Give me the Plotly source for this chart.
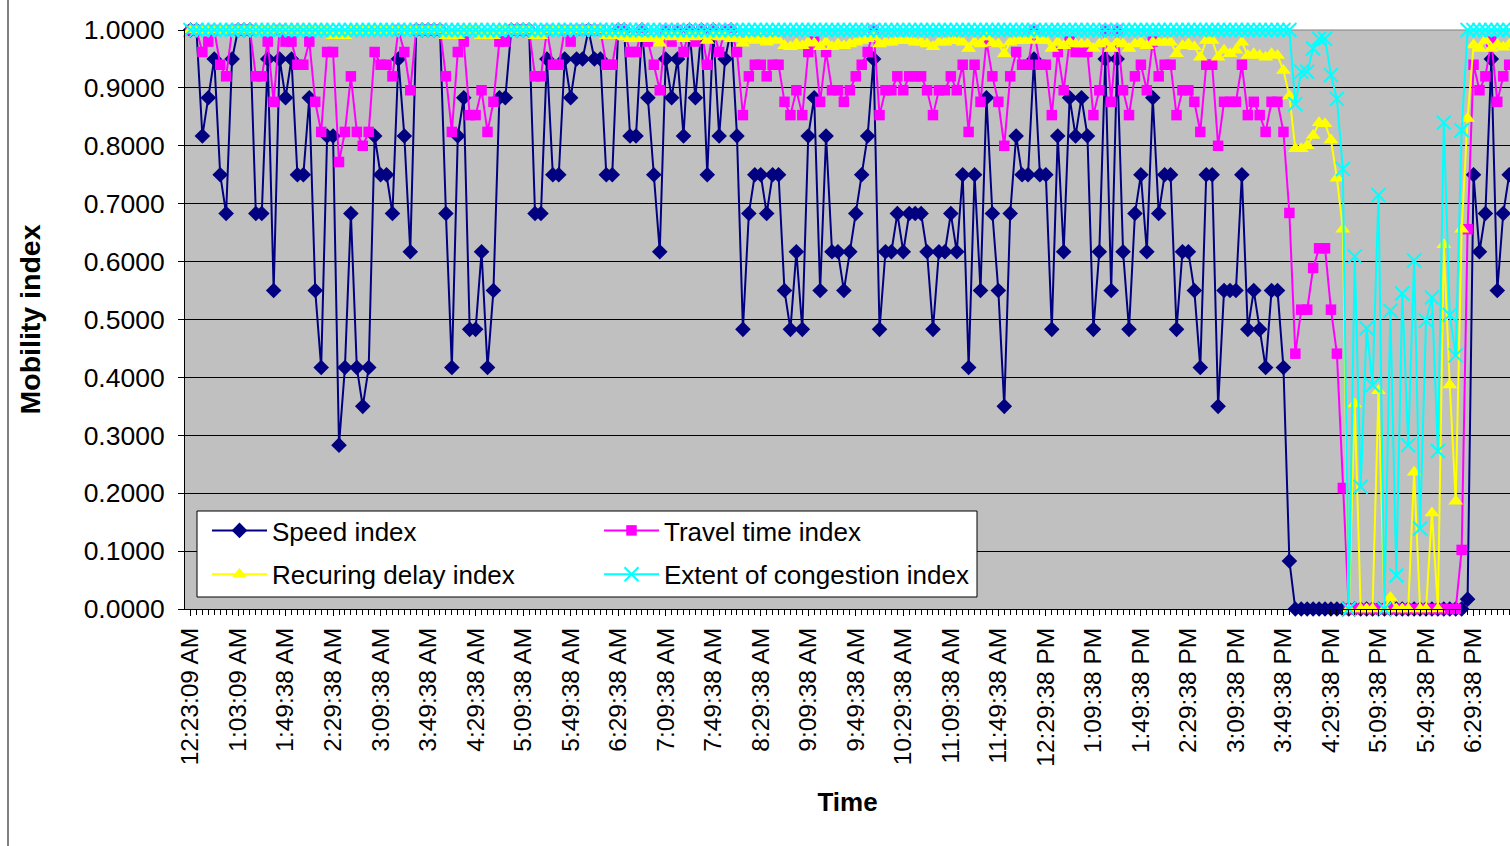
import plotly.graph_objects as go

# ---------------- data ----------------
tick_labels = [
    "12:23:09 AM", "1:03:09 AM", "1:49:38 AM", "2:29:38 AM", "3:09:38 AM", "3:49:38 AM",
    "4:29:38 AM", "5:09:38 AM", "5:49:38 AM", "6:29:38 AM", "7:09:38 AM", "7:49:38 AM",
    "8:29:38 AM", "9:09:38 AM", "9:49:38 AM", "10:29:38 AM", "11:09:38 AM", "11:49:38 AM",
    "12:29:38 PM", "1:09:38 PM", "1:49:38 PM", "2:29:38 PM", "3:09:38 PM", "3:49:38 PM",
    "4:29:38 PM", "5:09:38 PM", "5:49:38 PM", "6:29:38 PM",
]
label_every = 8  # one time label every 8 categories

speed_index = [
    1.0, 1.0, 0.817, 0.883, 0.95, 0.75, 0.683, 0.95, 1.0, 1.0,
    1.0, 0.683, 0.683, 0.95, 0.55, 0.95, 0.883, 0.95, 0.75, 0.75,
    0.883, 0.55, 0.417, 0.817, 0.817, 0.283, 0.417, 0.683, 0.417, 0.35,
    0.417, 0.817, 0.75, 0.75, 0.683, 0.95, 0.817, 0.617, 1.0, 1.0,
    1.0, 1.0, 1.0, 0.683, 0.417, 0.817, 0.883, 0.483, 0.483, 0.617,
    0.417, 0.55, 0.883, 0.883, 1.0, 1.0, 1.0, 1.0, 0.683, 0.683,
    0.95, 0.75, 0.75, 0.95, 0.883, 0.95, 0.95, 1.0, 0.95, 0.95,
    0.75, 0.75, 1.0, 1.0, 0.817, 0.817, 1.0, 0.883, 0.75, 0.617,
    0.95, 0.883, 0.95, 0.817, 1.0, 0.883, 1.0, 0.75, 1.0, 0.817,
    0.95, 1.0, 0.817, 0.483, 0.683, 0.75, 0.75, 0.683, 0.75, 0.75,
    0.55, 0.483, 0.617, 0.483, 0.817, 0.883, 0.55, 0.817, 0.617, 0.617,
    0.55, 0.617, 0.683, 0.75, 0.817, 0.95, 0.483, 0.617, 0.617, 0.683,
    0.617, 0.683, 0.683, 0.683, 0.617, 0.483, 0.617, 0.617, 0.683, 0.617,
    0.75, 0.417, 0.75, 0.55, 0.883, 0.683, 0.55, 0.35, 0.683, 0.817,
    0.75, 0.75, 0.95, 0.75, 0.75, 0.483, 0.817, 0.617, 0.883, 0.817,
    0.883, 0.817, 0.483, 0.617, 0.95, 0.55, 0.95, 0.617, 0.483, 0.683,
    0.75, 0.617, 0.883, 0.683, 0.75, 0.75, 0.483, 0.617, 0.617, 0.55,
    0.417, 0.75, 0.75, 0.35, 0.55, 0.55, 0.55, 0.75, 0.483, 0.55,
    0.483, 0.417, 0.55, 0.55, 0.417, 0.083, 0.0, 0.0, 0.0, 0.0,
    0.0, 0.0, 0.0, 0.0, 0.0, 0.0, 0.0, 0.0, 0.0, 0.0,
    0.0, 0.0, 0.0, 0.0, 0.0, 0.0, 0.0, 0.0, 0.0, 0.0,
    0.0, 0.0, 0.0, 0.0, 0.0, 0.017, 0.75, 0.617, 0.683, 0.95,
    0.55, 0.683, 0.75,
]

travel_time_index = [
    1.0, 1.0, 0.962, 0.98, 1.0, 0.94, 0.92, 1.0, 1.0, 1.0,
    1.0, 0.92, 0.92, 0.98, 0.876, 1.0, 0.98, 0.98, 0.94, 0.94,
    0.98, 0.876, 0.824, 0.962, 0.962, 0.772, 0.824, 0.92, 0.824, 0.80,
    0.824, 0.962, 0.94, 0.94, 0.92, 1.0, 0.962, 0.896, 1.0, 1.0,
    1.0, 1.0, 1.0, 0.92, 0.824, 0.962, 0.98, 0.853, 0.853, 0.896,
    0.824, 0.876, 0.98, 0.98, 1.0, 1.0, 1.0, 1.0, 0.92, 0.92,
    1.0, 0.94, 0.94, 1.0, 0.98, 1.0, 1.0, 1.0, 1.0, 1.0,
    0.94, 0.94, 1.0, 1.0, 0.962, 0.962, 1.0, 0.98, 0.94, 0.896,
    1.0, 0.98, 1.0, 0.962, 1.0, 0.98, 1.0, 0.94, 1.0, 0.962,
    1.0, 1.0, 0.962, 0.853, 0.92, 0.94, 0.94, 0.92, 0.94, 0.94,
    0.876, 0.853, 0.896, 0.853, 0.962, 0.98, 0.876, 0.962, 0.896, 0.896,
    0.876, 0.896, 0.92, 0.94, 0.962, 1.0, 0.853, 0.896, 0.896, 0.92,
    0.896, 0.92, 0.92, 0.92, 0.896, 0.853, 0.896, 0.896, 0.92, 0.896,
    0.94, 0.824, 0.94, 0.876, 0.98, 0.92, 0.876, 0.80, 0.92, 0.962,
    0.94, 0.94, 1.0, 0.94, 0.94, 0.853, 0.962, 0.896, 0.98, 0.962,
    0.962, 0.962, 0.853, 0.896, 1.0, 0.876, 1.0, 0.896, 0.853, 0.92,
    0.94, 0.896, 0.98, 0.92, 0.94, 0.94, 0.853, 0.896, 0.896, 0.876,
    0.824, 0.94, 0.94, 0.80, 0.876, 0.876, 0.876, 0.94, 0.853, 0.876,
    0.853, 0.824, 0.876, 0.876, 0.824, 0.684, 0.441, 0.517, 0.517, 0.589,
    0.623, 0.623, 0.517, 0.441, 0.209, 0.0, 0.0, 0.0, 0.0, 0.0,
    0.0, 0.0, 0.0, 0.0, 0.0, 0.0, 0.0, 0.0, 0.0, 0.0,
    0.0, 0.0, 0.0, 0.0, 0.102, 0.656, 0.94, 0.896, 0.92, 0.98,
    0.876, 0.92, 0.94,
]

recurring_delay_index = [
    1.0, 1.0, 1.0, 1.0, 1.0, 1.0, 1.0, 1.0, 1.0, 1.0,
    1.0, 1.0, 1.0, 1.0, 1.0, 1.0, 1.0, 1.0, 1.0, 1.0,
    1.0, 1.0, 1.0, 1.0, 0.99, 0.99, 0.99, 1.0, 1.0, 1.0,
    1.0, 1.0, 1.0, 1.0, 1.0, 1.0, 1.0, 1.0, 1.0, 1.0,
    1.0, 1.0, 1.0, 0.99, 0.99, 0.99, 1.0, 1.0, 1.0, 0.99,
    0.99, 0.99, 1.0, 1.0, 1.0, 1.0, 1.0, 1.0, 0.99, 0.99,
    1.0, 1.0, 1.0, 1.0, 1.0, 1.0, 1.0, 1.0, 1.0, 1.0,
    0.99, 0.99, 0.99, 0.988, 0.985, 0.985, 0.985, 0.985, 0.985, 0.977,
    0.99, 0.988, 0.99, 0.985, 0.99, 0.988, 0.99, 0.982, 0.99, 0.988,
    0.99, 0.985, 0.985, 0.977, 0.985, 0.982, 0.985, 0.979, 0.985, 0.982,
    0.973, 0.971, 0.976, 0.973, 0.979, 0.977, 0.971, 0.979, 0.971, 0.976,
    0.973, 0.976, 0.979, 0.982, 0.985, 0.988, 0.976, 0.979, 0.979, 0.982,
    0.982, 0.982, 0.979, 0.979, 0.976, 0.971, 0.979, 0.979, 0.982, 0.982,
    0.979, 0.968, 0.979, 0.976, 0.988, 0.977, 0.976, 0.959, 0.979, 0.982,
    0.982, 0.982, 0.991, 0.982, 0.982, 0.968, 0.979, 0.973, 0.979, 0.976,
    0.976, 0.976, 0.968, 0.976, 0.979, 0.968, 0.979, 0.976, 0.968, 0.976,
    0.979, 0.973, 0.979, 0.979, 0.979, 0.979, 0.959, 0.973, 0.976, 0.971,
    0.953, 0.982, 0.982, 0.953, 0.965, 0.959, 0.965, 0.979, 0.956, 0.959,
    0.956, 0.953, 0.959, 0.956, 0.93, 0.886, 0.795, 0.795, 0.80, 0.818,
    0.84, 0.838, 0.81, 0.744, 0.656, 0.0, 0.354, 0.0, 0.0, 0.0,
    0.377, 0.0, 0.02, 0.0, 0.0, 0.0, 0.236, 0.0, 0.0, 0.166,
    0.0, 0.629, 0.387, 0.186, 0.656, 0.847, 0.974, 0.968, 0.982, 0.968,
    0.975, 0.97, 0.975,
]

extent_of_congestion_index = [
    1.0, 1.0, 1.0, 1.0, 1.0, 1.0, 1.0, 1.0, 1.0, 1.0,
    1.0, 1.0, 1.0, 1.0, 1.0, 1.0, 1.0, 1.0, 1.0, 1.0,
    1.0, 1.0, 1.0, 1.0, 1.0, 1.0, 1.0, 1.0, 1.0, 1.0,
    1.0, 1.0, 1.0, 1.0, 1.0, 1.0, 1.0, 1.0, 1.0, 1.0,
    1.0, 1.0, 1.0, 1.0, 1.0, 1.0, 1.0, 1.0, 1.0, 1.0,
    1.0, 1.0, 1.0, 1.0, 1.0, 1.0, 1.0, 1.0, 1.0, 1.0,
    1.0, 1.0, 1.0, 1.0, 1.0, 1.0, 1.0, 1.0, 1.0, 1.0,
    1.0, 1.0, 1.0, 1.0, 1.0, 1.0, 1.0, 1.0, 1.0, 1.0,
    1.0, 1.0, 1.0, 1.0, 1.0, 1.0, 1.0, 1.0, 1.0, 1.0,
    1.0, 1.0, 1.0, 1.0, 1.0, 1.0, 1.0, 1.0, 1.0, 1.0,
    1.0, 1.0, 1.0, 1.0, 1.0, 1.0, 1.0, 1.0, 1.0, 1.0,
    1.0, 1.0, 1.0, 1.0, 1.0, 1.0, 1.0, 1.0, 1.0, 1.0,
    1.0, 1.0, 1.0, 1.0, 1.0, 1.0, 1.0, 1.0, 1.0, 1.0,
    1.0, 1.0, 1.0, 1.0, 1.0, 1.0, 1.0, 1.0, 1.0, 1.0,
    1.0, 1.0, 1.0, 1.0, 1.0, 1.0, 1.0, 1.0, 1.0, 1.0,
    1.0, 1.0, 1.0, 1.0, 1.0, 1.0, 1.0, 1.0, 1.0, 1.0,
    1.0, 1.0, 1.0, 1.0, 1.0, 1.0, 1.0, 1.0, 1.0, 1.0,
    1.0, 1.0, 1.0, 1.0, 1.0, 1.0, 1.0, 1.0, 1.0, 1.0,
    1.0, 1.0, 1.0, 1.0, 1.0, 1.0, 0.872, 0.928, 0.928, 0.968,
    0.985, 0.985, 0.922, 0.881, 0.76, 0.0, 0.609, 0.211, 0.485, 0.387,
    0.715, 0.0, 0.515, 0.058, 0.545, 0.283, 0.602, 0.139, 0.498, 0.538,
    0.273, 0.84, 0.508, 0.438, 0.827, 1.0, 1.0, 1.0, 1.0, 1.0,
    1.0, 1.0, 1.0,
]

# ---------------- figure ----------------
FONT = "Liberation Sans, Arial, sans-serif"
W, H = 1510, 846
ML, MR, MT, MB = 185, 0, 30, 237

def px_x(p):
    return (p - ML) / (W - ML - MR)

def px_y(p):
    return (H - MB - p) / (H - MT - MB)

fig = go.Figure()

series = [
    ("Speed index", speed_index, "#000080", "diamond", 12, "legend"),
    ("Travel time index", travel_time_index, "#FF00FF", "square", 10.5, "legend2"),
    ("Recuring delay index", recurring_delay_index, "#FFFF00", "triangle-up", 13, "legend"),
    ("Extent of congestion index", extent_of_congestion_index, "#00FFFF", "x-thin", 14, "legend2"),
]

for name, vals, color, sym, size, leg in series:
    marker = dict(symbol=sym, size=size, color=color)
    if sym == "x-thin":
        marker["line"] = dict(color=color, width=2)
    else:
        marker["line"] = dict(width=0)
    fig.add_trace(go.Scatter(
        x=list(range(len(vals))), y=vals, name=name, mode="lines+markers",
        line=dict(color=color, width=2), marker=marker, cliponaxis=False,
        legend=leg, legendgroup=name,
    ))

tickvals = [k * label_every for k in range(len(tick_labels))]

fig.update_layout(
    width=W, height=H, autosize=False,
    margin=dict(l=ML, r=MR, t=MT, b=MB, pad=0),
    paper_bgcolor="white", plot_bgcolor="#C0C0C0",
    template="none",
    font=dict(family=FONT, size=24, color="black"),
    showlegend=True,
    xaxis=dict(
        range=[-0.926, 222.14], tickvals=tickvals, ticktext=tick_labels,
        tickangle=-90, tickfont=dict(size=24.5, family=FONT, color="black"),
        ticks="outside", ticklen=6, tickcolor="black", tickwidth=1,
        minor=dict(dtick=1, ticks="outside", ticklen=5, tickcolor="black", tickwidth=1, showgrid=False),
        showgrid=False, zeroline=False, showline=True, linecolor="black", linewidth=1,
        ticklabelstandoff=2,
        title=dict(text="Time", font=dict(size=26, family=FONT, color="black", weight="bold"), standoff=27),
        automargin=False,
    ),
    yaxis=dict(
        range=[0, 1], dtick=0.1, tick0=0, tickformat=".4f",
        tickfont=dict(size=26.5, family=FONT, color="black"),
        ticks="outside", ticklen=6, tickcolor="black", tickwidth=1,
        showgrid=True, gridcolor="black", gridwidth=1, zeroline=False,
        showline=True, linecolor="black", linewidth=1,
        ticklabelstandoff=8,
        title=dict(text="Mobility index", font=dict(size=28.5, family=FONT, color="black", weight="bold"), standoff=34),
        automargin=False,
    ),
    legend=dict(
        x=px_x(207), y=px_y(507), xanchor="left", yanchor="top",
        bgcolor="rgba(0,0,0,0)", borderwidth=0, itemwidth=55,
        font=dict(size=26, family=FONT, color="black"), tracegroupgap=7,
        itemclick=False, itemdoubleclick=False,
    ),
    legend2=dict(
        x=px_x(599), y=px_y(507), xanchor="left", yanchor="top",
        bgcolor="rgba(0,0,0,0)", borderwidth=0, itemwidth=55,
        font=dict(size=26, family=FONT, color="black"), tracegroupgap=7,
        itemclick=False, itemdoubleclick=False,
    ),
    shapes=[
        # legend box
        dict(type="rect", xref="paper", yref="paper",
             x0=px_x(197), x1=px_x(977), y0=px_y(597), y1=px_y(511),
             fillcolor="white", line=dict(color="black", width=1), layer="above"),
        # plot-area top border
        dict(type="line", xref="paper", yref="paper", x0=0, x1=1, y0=1, y1=1,
             line=dict(color="#808080", width=1), layer="between"),
        # chart-area left border
        dict(type="line", xref="paper", yref="paper",
             x0=px_x(8), x1=px_x(8), y0=px_y(0), y1=px_y(846),
             line=dict(color="black", width=1), layer="above"),
    ],
)

print(len(speed_index), len(travel_time_index), len(recurring_delay_index), len(extent_of_congestion_index))
fig.write_html("out.html")
